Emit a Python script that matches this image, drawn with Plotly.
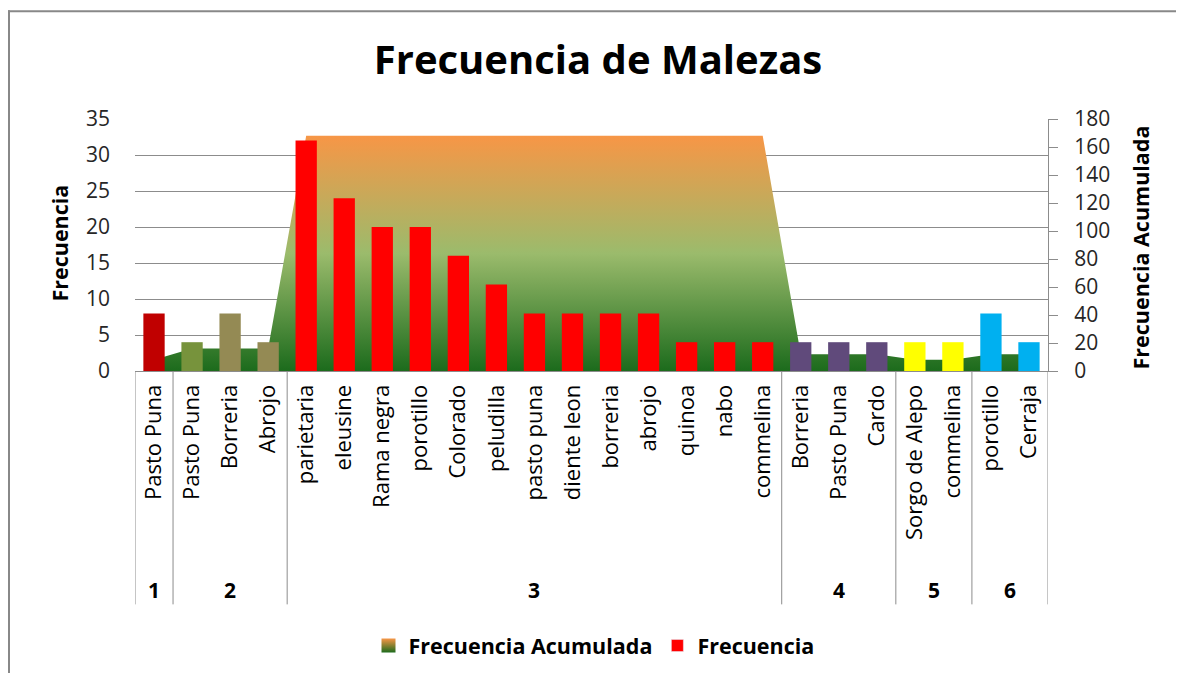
import plotly.graph_objects as go

# ---------------- data ----------------
categories = ["Pasto Puna",
              "Pasto Puna", "Borreria", "Abrojo",
              "parietaria", "eleusine", "Rama negra", "porotillo", "Colorado", "peludilla",
              "pasto puna", "diente leon", "borreria", "abrojo", "quinoa", "nabo", "commelina",
              "Borreria", "Pasto Puna", "Cardo",
              "Sorgo de Alepo", "commelina",
              "porotillo", "Cerraja"]
groups = ["1",
          "2", "2", "2",
          "3", "3", "3", "3", "3", "3", "3", "3", "3", "3", "3", "3", "3",
          "4", "4", "4",
          "5", "5",
          "6", "6"]
frecuencia = [8,
              4, 8, 4,
              32, 24, 20, 20, 16, 12, 8, 8, 8, 8, 4, 4, 4,
              4, 4, 4,
              4, 4,
              8, 4]
frecuencia_acumulada = [8,
                        16, 16, 16,
                        168, 168, 168, 168, 168, 168, 168, 168, 168, 168, 168, 168, 168,
                        12, 12, 12,
                        8, 8,
                        12, 12]
bar_colors = ["#C00000",
              "#77933C", "#948A54", "#948A54",
              "#FF0000", "#FF0000", "#FF0000", "#FF0000", "#FF0000", "#FF0000", "#FF0000",
              "#FF0000", "#FF0000", "#FF0000", "#FF0000", "#FF0000", "#FF0000",
              "#604A7B", "#604A7B", "#604A7B",
              "#FFFF00", "#FFFF00",
              "#00B0F0", "#00B0F0"]

FONT = "Open Sans"
TXT = "#262626"
GRAY = "#8C8C8C"
ORANGE = "#F79646"
DKGREEN = "#1C6B1C"

# figure geometry (page has an 8px body margin)
W, H = 1176, 671
L, R, T = 127, 136, 111
PLOT_BOTTOM = 368
B = H - PLOT_BOTTOM
PW, PH = W - L - R, PLOT_BOTTOM - T


def px(fx):
    return (fx - L) / PW


def py(fy):
    return (PLOT_BOTTOM - fy) / PH


x = list(range(len(categories)))

fig = go.Figure()

# area (primary axis, right side, drawn beneath the bars)
fig.add_trace(go.Scatter(
    x=x, y=frecuencia_acumulada, name="Frecuencia Acumulada",
    mode="lines", line=dict(width=0, color="#5E9A3C"),
    fill="tozeroy",
    fillgradient=dict(type="vertical", start=0, stop=168,
                      colorscale=[[0, DKGREEN], [0.5, "#9BBB6C"], [1, ORANGE]]),
    yaxis="y", hoverinfo="skip", showlegend=False))
# legend entry with gradient swatch
fig.add_trace(go.Scatter(
    x=[None], y=[None], name="Frecuencia Acumulada", mode="markers",
    marker=dict(symbol="square", size=14, color=ORANGE,
                gradient=dict(type="vertical", color=DKGREEN)),
    yaxis="y"))

# bars (overlay axis, left side)
fig.add_trace(go.Bar(
    x=x, y=frecuencia, name="Frecuencia", marker=dict(color=bar_colors, line=dict(width=0)),
    width=0.56, yaxis="y2", showlegend=False))
fig.add_trace(go.Bar(
    x=[None], y=[None], name="Frecuencia", marker=dict(color="#FF0000"), yaxis="y2"))

# group separators and labels
shapes = []
annotations = []
bounds = [0]
for i in range(1, len(groups)):
    if groups[i] != groups[i - 1]:
        bounds.append(i)
bounds.append(len(groups))
for b in bounds:
    shapes.append(dict(type="line", xref="x", yref="paper", x0=b - 0.5, x1=b - 0.5,
                       y0=0, y1=py(606), line=dict(color=GRAY, width=1)))
for a, b in zip(bounds[:-1], bounds[1:]):
    annotations.append(dict(xref="x", yref="paper", x=(a + b - 1) / 2, y=py(591),
                            text="<b>%s</b>" % groups[a], showarrow=False,
                            font=dict(family=FONT, size=21, color="#000000"),
                            yanchor="middle"))

# axis titles
annotations.append(dict(xref="paper", yref="paper", x=px(52), y=py(238),
                        text="<b>Frecuencia</b>", textangle=-90, showarrow=False,
                        font=dict(family=FONT, size=21.5, color="#000000"),
                        xanchor="center", yanchor="middle"))
annotations.append(dict(xref="paper", yref="paper", x=px(1132), y=py(242),
                        text="<b>Frecuencia Acumulada</b>", textangle=-90, showarrow=False,
                        font=dict(family=FONT, size=21.5, color="#000000"),
                        xanchor="center", yanchor="middle"))

# chart border (left and top edges visible)
shapes.append(dict(type="line", xref="paper", yref="paper", x0=px(1), x1=px(1),
                   y0=py(0), y1=py(H + 5), line=dict(color="#888888", width=2)))
shapes.append(dict(type="line", xref="paper", yref="paper", x0=px(0), x1=px(W + 5),
                   y0=py(1), y1=py(1), line=dict(color="#888888", width=2)))

fig.update_layout(
    width=W, height=H,
    margin=dict(l=L, r=R, t=T, b=B),
    paper_bgcolor="white", plot_bgcolor="white",
    font=dict(family=FONT, color=TXT),
    title=dict(text="<b>Frecuencia de Malezas</b>", x=px(590), xanchor="center",
               xref="paper", y=1 - 52 / H, yanchor="middle", yref="container",
               font=dict(family=FONT, size=40, color="#000000")),
    xaxis=dict(range=[-0.5, len(categories) - 0.5], tickvals=x, ticktext=categories,
               tickangle=-90, tickfont=dict(family=FONT, size=22, color="#000000"),
               showline=True, linecolor=GRAY, linewidth=1, ticks="", showgrid=False,
               zeroline=False, fixedrange=True, ticklabelstandoff=4),
    yaxis=dict(side="right", range=[0, 180], dtick=20, showgrid=False, zeroline=False,
               showline=True, linecolor=GRAY, ticks="outside", ticklen=9, tickcolor=GRAY,
               tickfont=dict(family=FONT, size=21, color=TXT), ticklabelstandoff=12),
    yaxis2=dict(overlaying="y", side="left", range=[0, 35], dtick=5,
                showgrid=True, gridcolor=GRAY, gridwidth=1, zeroline=False,
                showline=False, ticks="",
                tickfont=dict(family=FONT, size=21, color=TXT), ticklabelstandoff=24),
    legend=dict(orientation="h", x=px(586), xanchor="center", y=py(648),
                yanchor="middle",
                font=dict(family=FONT, size=21.5, color="#000000", weight="bold"),
                traceorder="normal", itemwidth=30),
    shapes=shapes, annotations=annotations,
)

fig.write_html("out.html")
